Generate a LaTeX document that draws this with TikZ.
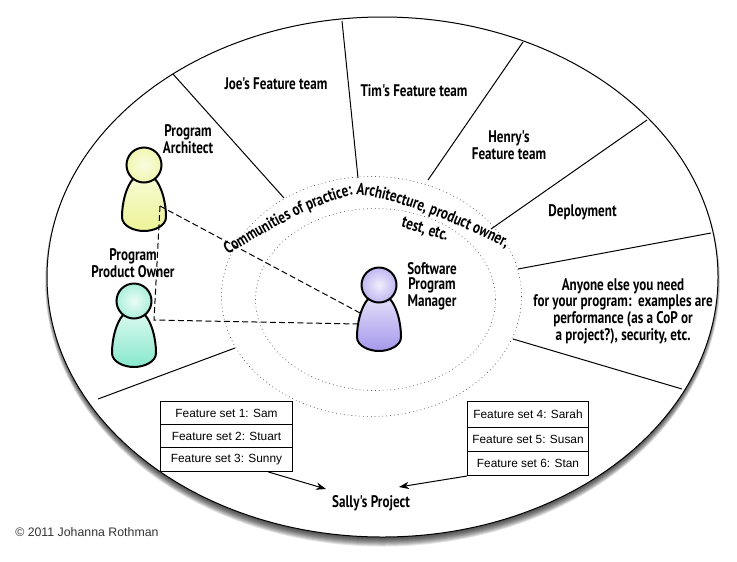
\documentclass[tikz,border=0pt]{standalone}
\usepackage{fontspec}
\usetikzlibrary{arrows.meta,decorations.text}
\setmainfont{Liberation Sans}
\newfontfamily\markerfamily[FakeStretch=0.78]{PT Sans Bold}
\newcommand*\pixsize{0.75pt}
\newcommand*\markertext{\markerfamily\fontsize{12.6}{11.25}\selectfont}
\definecolor{archpale}{RGB}{250,252,225}
\definecolor{archdeep}{RGB}{236,243,150}
\definecolor{ownerpale}{RGB}{236,252,246}
\definecolor{ownerdeep}{RGB}{135,232,204}
\definecolor{managerpale}{RGB}{240,238,252}
\definecolor{managerdeep}{RGB}{165,152,236}
\tikzset{
    marker/.style={font=\markertext, align=center, inner sep=0pt},
    spoke/.style={line width=0.75pt},
    practice/.style={line width=0.5pt, gray!70!black, dash pattern=on 0.6pt off 2.3pt},
    reports/.style={line width=0.75pt, dash pattern=on 4.5pt off 2.4pt},
    head/.style={draw, circle, line width=1.5pt, minimum size=35*\pixsize, inner sep=0pt},
    body/.style={draw, line width=1.5pt},
    feeds/.style={line width=0.75pt, -{Stealth[length=7.5pt,width=5.5pt]}},
    featureset/.style 2 args={
        draw,
        fill=white,
        line width=0.75pt,
        font=\fontsize{8.9}{11}\selectfont,
        rectangle,
        anchor=north west,
        inner sep=0pt,
        minimum width=#1*\pixsize,
        minimum height=#2*\pixsize,
        align=center
    }
}
\begin{document}
\begin{tikzpicture}[x=\pixsize,y=-\pixsize]
    \useasboundingbox (0,0) rectangle (737,561);

    % Soft shadow under the big ellipse.
    \foreach \blur in {9,8,7,6,5,4,3,2,1,0}
        \fill[black,opacity=0.11] (382.5,281.5) ellipse [x radius=333+0.5*\blur, y radius=256+\blur];
    \draw[fill=white,line width=0.75pt] (382.5,277) ellipse [x radius=335.5, y radius=260];

    % Dotted rings.
    \draw[practice] (371.5,296.5) ellipse [x radius=150, y radius=120];
    \draw[practice] (375.5,299.5) ellipse [x radius=120, y radius=91];

    % The dividers between the teams.
    \foreach \name/\xo/\yo/\xi/\yi in {joe/173/74/284/198,tim/342/21/358/178,henry/523/42/428/180,
        deploy/647/120/491/229,anyone/711/233/518/269,sally/682/389/513/339,owner/98/399/235/348} {
        \coordinate (\name outer) at (\xo,\yo);
        \coordinate (\name inner) at (\xi,\yi);
        \draw[spoke] (\name outer) -- (\name inner);
    }

    % The three people.
    \foreach \name/\x/\y/\pale/\deep in {architect/144/165/archpale/archdeep,
        productowner/134/301/ownerpale/ownerdeep,manager/379/285/managerpale/managerdeep} {
        \begin{scope}[shift={(\x,\y)}]
            \draw[body, top color=\pale!80!\deep, middle color=\pale, bottom color=\deep]
                (-11,14) .. controls (-18,22) and (-22,38) .. (-22,52)
                .. controls (-22,61) and (-10,66) .. (0,66)
                .. controls (10,66) and (22,61) .. (22,52)
                .. controls (22,38) and (18,22) .. (11,14) -- cycle;
        \end{scope}
        \node[head, inner color=\pale, outer color=\pale!35!\deep] (\name) at (\x,\y) {};
    }

    % Dashed reporting lines.
    \coordinate (architectside) at (160,206);
    \coordinate (elbow) at (154,320);
    \coordinate (managerupper) at (362,314);
    \coordinate (managerlower) at (358,324);
    \draw[reports] (architectside) -- (managerupper);
    \draw[reports] (architectside) -- (elbow) -- (managerlower);

    % Labels of the sectors.
    \node[marker] (joeteam) at (276,84) {Joe's Feature team};
    \node[marker] (timteam) at (414,91) {Tim's Feature team};
    \node[marker] (henryteam) at (509,145.5) {Henry's\\Feature team};
    \node[marker] (deployment) at (582.5,212) {Deployment};
    \node[marker] (anyoneelse) at (623,311.5) {Anyone else you need\\for your program:\ \ examples are\\performance (as a CoP or\\a project?), security, etc.};
    \node[marker] (architectname) at (188,139) {Program\\Architect};
    \node[marker] (ownername) at (133,263.5) {Program\\Product Owner};
    \node[marker] (managername) at (432,286) {Software\\Program\\Manager};

    % Text on the ring.
    \path[decorate,decoration={text along path,text align=center,
        text={|\markertext|Communities of practice:  Architecture, product owner,}}]
        (222,258) .. controls (262,234) and (310,205) .. (355,194)
        .. controls (395,198) and (460,224) .. (512,251);
    \node[marker,rotate=-17] (ringsecond) at (425,230) {test, etc.};

    % Feature sets, left then right.
    \foreach \name/\y/\h/\who in {sam/401/23/1: Sam,stuart/424/23/2: Stuart,sunny/447/24/3: Sunny}
        \node[featureset={132}{\h}] (\name) at (160,\y) {Feature set \who};
    \foreach \name/\y/\h/\who in {sarah/401/25.5/4: Sarah,susan/426.5/24/5: Susan,stan/450.5/24.5/6: Stan}
        \node[featureset={121}{\h}] (\name) at (467,\y) {Feature set \who};

    \node[marker] (project) at (371,503) {Sally's Project};
    \coordinate (projectleft) at (326,489);
    \coordinate (projectright) at (399,487);
    \draw[feeds] ([xshift=31.5pt]sunny.south) -- (projectleft);
    \draw[feeds] (stan.south west) -- (projectright);

    \node[anchor=west,inner sep=0pt,font=\fontsize{9.25}{10}\selectfont,text=black!80] (copyright) at (15,532) {© 2011 Johanna Rothman};

\end{tikzpicture}
\end{document}
